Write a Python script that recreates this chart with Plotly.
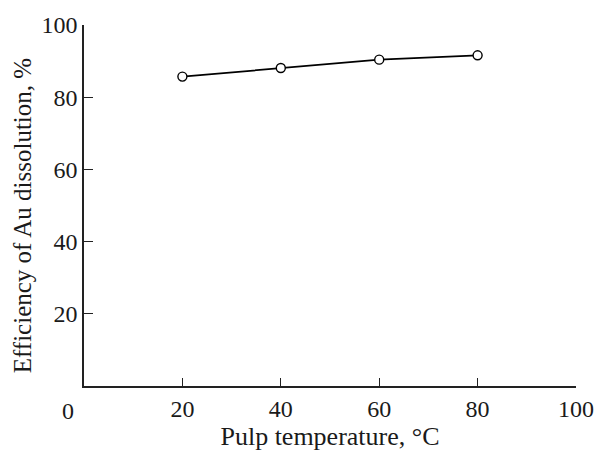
import plotly.graph_objects as go

temperature = [20, 40, 60, 80]
efficiency = [85.7, 88.1, 90.4, 91.6]
x_ticks = [20, 40, 60, 80, 100]
y_ticks = [20, 40, 60, 80, 100]

FONT = "Liberation Serif"
TXT = "#1a1a1a"

fig = go.Figure()
fig.add_trace(go.Scatter(
    x=temperature, y=efficiency, mode="lines+markers",
    line=dict(color="black", width=1.7),
    marker=dict(symbol="circle", size=9, color="white",
                line=dict(color="black", width=1.4)),
    showlegend=False, cliponaxis=False,
))

fig.update_layout(
    width=606, height=454,
    margin=dict(l=84, r=20, t=25, b=67),
    paper_bgcolor="white", plot_bgcolor="white",
    font=dict(family=FONT, size=24, color=TXT),
)
fig.update_xaxes(
    range=[0, 100], tickvals=x_ticks, ticktext=[str(v) for v in x_ticks],
    showline=True, linecolor="#222", linewidth=1.6,
    ticks="inside", ticklen=8, tickwidth=1.4, tickcolor="#222",
    showgrid=False, zeroline=False,
    title=dict(text="Pulp temperature, °C", font=dict(family=FONT, size=26, color=TXT), standoff=2),
    tickfont=dict(family=FONT, size=24, color=TXT),
)
fig.update_yaxes(
    range=[0, 100], tickvals=y_ticks, ticktext=[str(v) for v in y_ticks],
    showline=True, linecolor="#222", linewidth=1.6,
    ticks="inside", ticklen=9, tickwidth=1.4, tickcolor="#222",
    showgrid=False, zeroline=False,
    tickfont=dict(family=FONT, size=24, color=TXT),
)
# y-axis title placed as rotated text, slightly below the plot centre as in the reference
fig.add_annotation(
    x=0, y=0.47, xref="paper", yref="paper", text="Efficiency of Au dissolution, %",
    showarrow=False, textangle=-90, xanchor="center", yanchor="middle", xshift=-62,
    font=dict(family=FONT, size=25, color=TXT),
)
fig.add_annotation(
    x=0, y=0, xref="x", yref="y", text="0", showarrow=False,
    xanchor="center", yanchor="top", xshift=-16, yshift=-10,
    font=dict(family=FONT, size=24, color=TXT),
)
fig.write_html("out.html")
